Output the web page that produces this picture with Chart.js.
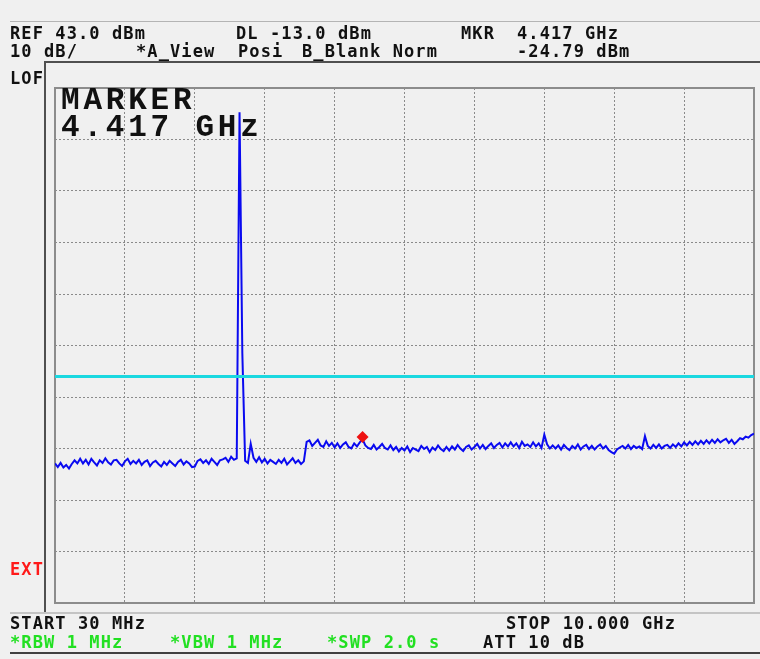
<!DOCTYPE html>
<html>
<head>
<meta charset="utf-8">
<script src="https://cdn.jsdelivr.net/npm/chart.js@4.4.1/dist/chart.umd.min.js"></script>
<style>
  body { margin: 0; background: #f0f0f0; }
  #screen { position: relative; width: 760px; height: 659px; background: #f0f0f0; overflow: hidden; }
  #spectrum { position: absolute; left: 0; top: 0; }
  .txt { position: absolute; font-family: "DejaVu Sans Mono", monospace; font-weight: bold;
         font-size: 17px; line-height: 17px; letter-spacing: 1.1px; color: #111; white-space: pre; }
  .green { color: #22e022; }
  .red { color: #ff1a1a; }
  .big { position: absolute; font-family: "Liberation Mono", monospace; font-weight: bold; font-size: 31px;
         line-height: 31px; letter-spacing: 3.8px; color: #111; white-space: pre; }
  .rule { position: absolute; }
</style>
</head>
<body>
<div id="screen">
  <canvas id="spectrum" width="760" height="659"></canvas>

  <div class="rule" style="left:10px;top:21px;width:750px;height:1px;background:#b4b4b4"></div>
  <div class="rule" style="left:44px;top:61px;width:716px;height:2px;background:#505050"></div>
  <div class="rule" style="left:44px;top:61px;width:2px;height:552px;background:#505050"></div>
  <div class="rule" style="left:10px;top:612px;width:750px;height:2px;background:#c4c4c4"></div>
  <div class="rule" style="left:10px;top:652px;width:750px;height:2px;background:#404040"></div>

  <div class="txt" style="left:10px;top:25px">REF 43.0 dBm</div>
  <div class="txt" style="left:236px;top:25px">DL -13.0 dBm</div>
  <div class="txt" style="left:461px;top:25px">MKR</div>
  <div class="txt" style="left:517px;top:25px">4.417 GHz</div>
  <div class="txt" style="left:10px;top:43px">10 dB/</div>
  <div class="txt" style="left:136px;top:43px">*A_View</div>
  <div class="txt" style="left:238px;top:43px">Posi</div>
  <div class="txt" style="left:302px;top:43px">B_Blank Norm</div>
  <div class="txt" style="left:517px;top:43px">-24.79 dBm</div>
  <div class="txt" style="left:10px;top:70px">LOF</div>
  <div class="txt red" style="left:10px;top:561px">EXT</div>
  <div class="txt" style="left:10px;top:615px">START 30 MHz</div>
  <div class="txt" style="left:506px;top:615px">STOP 10.000 GHz</div>
  <div class="txt green" style="left:10px;top:634px">*RBW 1 MHz</div>
  <div class="txt green" style="left:170px;top:634px">*VBW 1 MHz</div>
  <div class="txt green" style="left:327px;top:634px">*SWP 2.0 s</div>
  <div class="txt" style="left:483px;top:634px">ATT 10 dB</div>

  <div class="big" style="left:61px;top:85px">MARKER</div>
  <div class="big" style="left:61px;top:112px">4.417 GHz</div>
</div>

<script>
// Sweep settings (x axis in GHz, y axis in dBm)
const startGHz = 0.03;
const stopGHz = 10.0;
const refLevel = 43.0;
const dbPerDiv = 10;
const divisions = 10;
const displayLine = -13.0;
const markerGHz = 4.417;
const markerDbm = -24.79;

// Trace A, one value per sweep point (evenly spaced from start to stop)
const traceDbm = [
  -29.9, -30.6, -29.8, -30.7, -30.2, -30.9, -30.0, -29.3, -29.9, -29.0,
  -29.9, -29.2, -30.1, -29.0, -29.7, -30.3, -29.3, -29.8, -28.9, -29.7,
  -30.1, -29.3, -29.2, -29.9, -30.4, -29.5, -29.0, -30.0, -29.4, -29.9,
  -29.2, -30.2, -29.6, -29.3, -30.4, -29.7, -29.4, -30.0, -30.5, -29.6,
  -30.2, -29.4, -29.9, -30.4, -29.6, -29.2, -30.1, -29.5, -29.9, -30.6,
  -30.5, -29.4, -29.1, -29.8, -29.3, -30.0, -29.0, -29.6, -30.2, -29.3,
  -29.1, -28.8, -29.6, -28.6, -29.2, -28.9, 38.3, -8.5, -29.4, -29.8,
  -26.1, -28.8, -29.6, -28.7, -29.7, -29.0, -29.9, -29.2, -29.6, -30.0,
  -29.2, -29.8, -29.0, -30.1, -29.5, -28.9, -29.8, -29.3, -30.0, -29.5,
  -25.7, -25.4, -26.5, -25.9, -25.3, -26.4, -26.7, -25.6, -26.5, -25.9,
  -26.8, -26.0, -26.9, -26.2, -25.8, -26.7, -27.0, -26.0, -26.6, -25.8,
  -25.2, -26.4, -26.9, -27.1, -26.3, -27.2, -26.7, -26.1, -26.9, -27.2,
  -26.4, -27.3, -26.7, -27.6, -26.9, -27.4, -26.6, -27.7, -26.9, -27.2,
  -27.5, -26.5, -27.1, -26.7, -27.7, -26.8, -27.3, -26.4, -27.1, -27.5,
  -26.7, -27.4, -26.6, -27.2, -26.3, -27.0, -27.5, -26.7, -26.4, -27.2,
  -26.7, -26.1, -27.0, -26.3, -27.1, -26.5, -26.0, -26.9, -26.3, -25.9,
  -26.8, -26.0, -26.6, -25.8, -26.6, -26.0, -26.9, -25.7, -26.5, -26.2,
  -26.7, -25.8, -26.6, -26.0, -26.9, -24.3, -26.2, -27.0, -26.4, -27.0,
  -26.4, -27.2, -26.3, -26.9, -27.3, -26.5, -27.0, -26.2, -27.2, -26.6,
  -26.3, -27.1, -26.5, -27.2, -26.6, -26.2, -27.0, -26.5, -27.3, -27.7,
  -28.0, -27.2, -26.8, -26.5, -27.0, -26.3, -27.1, -26.5, -26.9, -26.6,
  -27.1, -24.6, -26.5, -27.0, -26.3, -26.9, -26.2, -27.0, -26.5, -26.3,
  -26.9, -26.2, -26.7, -26.0, -26.6, -25.8, -26.4, -25.7, -26.3, -25.6,
  -26.2, -25.5, -26.1, -25.4, -26.0, -25.3, -25.9, -25.2, -25.8, -25.4,
  -25.1, -25.9, -25.3, -26.1, -25.6, -25.0, -25.2, -24.7, -24.9, -24.4,
  -24.1
];

const sweepStep = (stopGHz - startGHz) / (traceDbm.length - 1);
const tracePoints = traceDbm.map((v, i) => ({ x: startGHz + i * sweepStep, y: v }));

const bottomLevel = refLevel - dbPerDiv * divisions;
const xGrid = [];
const yGrid = [];
for (let k = 0; k <= divisions; k++) {
  xGrid.push({ value: startGHz + k * (stopGHz - startGHz) / divisions });
  yGrid.push({ value: bottomLevel + k * dbPerDiv });
}

// solid frame round the graticule
const frame = {
  id: 'frame',
  beforeDatasetsDraw(chart) {
    const a = chart.chartArea;
    const c = chart.ctx;
    c.save();
    c.strokeStyle = '#8c8c8c';
    c.lineWidth = 2;
    c.strokeRect(a.left, a.top, a.right - a.left, a.bottom - a.top);
    c.restore();
  }
};

const gridOpts = { color: '#8a8a8a', lineWidth: 1, drawTicks: false };

const ctx = document.getElementById('spectrum').getContext('2d');
const spectrumChart = new Chart(ctx, {
  type: 'line',
  data: {
    datasets: [
      {
        label: 'Marker',
        data: [{ x: markerGHz, y: markerDbm }],
        showLine: false,
        pointStyle: 'rectRot',
        pointRadius: 6,
        backgroundColor: '#ee1111',
        borderColor: '#ee1111',
        borderWidth: 0,
        order: 0
      },
      {
        label: 'DL',
        data: [{ x: startGHz, y: displayLine }, { x: stopGHz, y: displayLine }],
        borderColor: '#1ad8e0',
        borderWidth: 3,
        pointRadius: 0,
        order: 1
      },
      {
        label: 'Trace A',
        data: tracePoints,
        borderColor: '#0a0af0',
        borderWidth: 2,
        pointRadius: 0,
        tension: 0,
        order: 2
      }
    ]
  },
  options: {
    responsive: false,
    animation: false,
    events: [],
    layout: { padding: { left: 55, top: 88, right: 3, bottom: 56 } },
    plugins: { legend: { display: false }, tooltip: { enabled: false } },
    scales: {
      x: {
        type: 'linear',
        min: startGHz,
        max: stopGHz,
        ticks: { display: false },
        grid: gridOpts,
        border: { display: false, dash: [2, 2] },
        afterBuildTicks: s => { s.ticks = xGrid; },
        afterFit: s => { s.height = 0; s.paddingLeft = 0; s.paddingRight = 0; }
      },
      y: {
        min: bottomLevel,
        max: refLevel,
        ticks: { display: false },
        grid: gridOpts,
        border: { display: false, dash: [2, 2] },
        afterBuildTicks: s => { s.ticks = yGrid; },
        afterFit: s => { s.width = 0; s.paddingTop = 0; s.paddingBottom = 0; }
      }
    }
  },
  plugins: [frame]
});
</script>
</body>
</html>
